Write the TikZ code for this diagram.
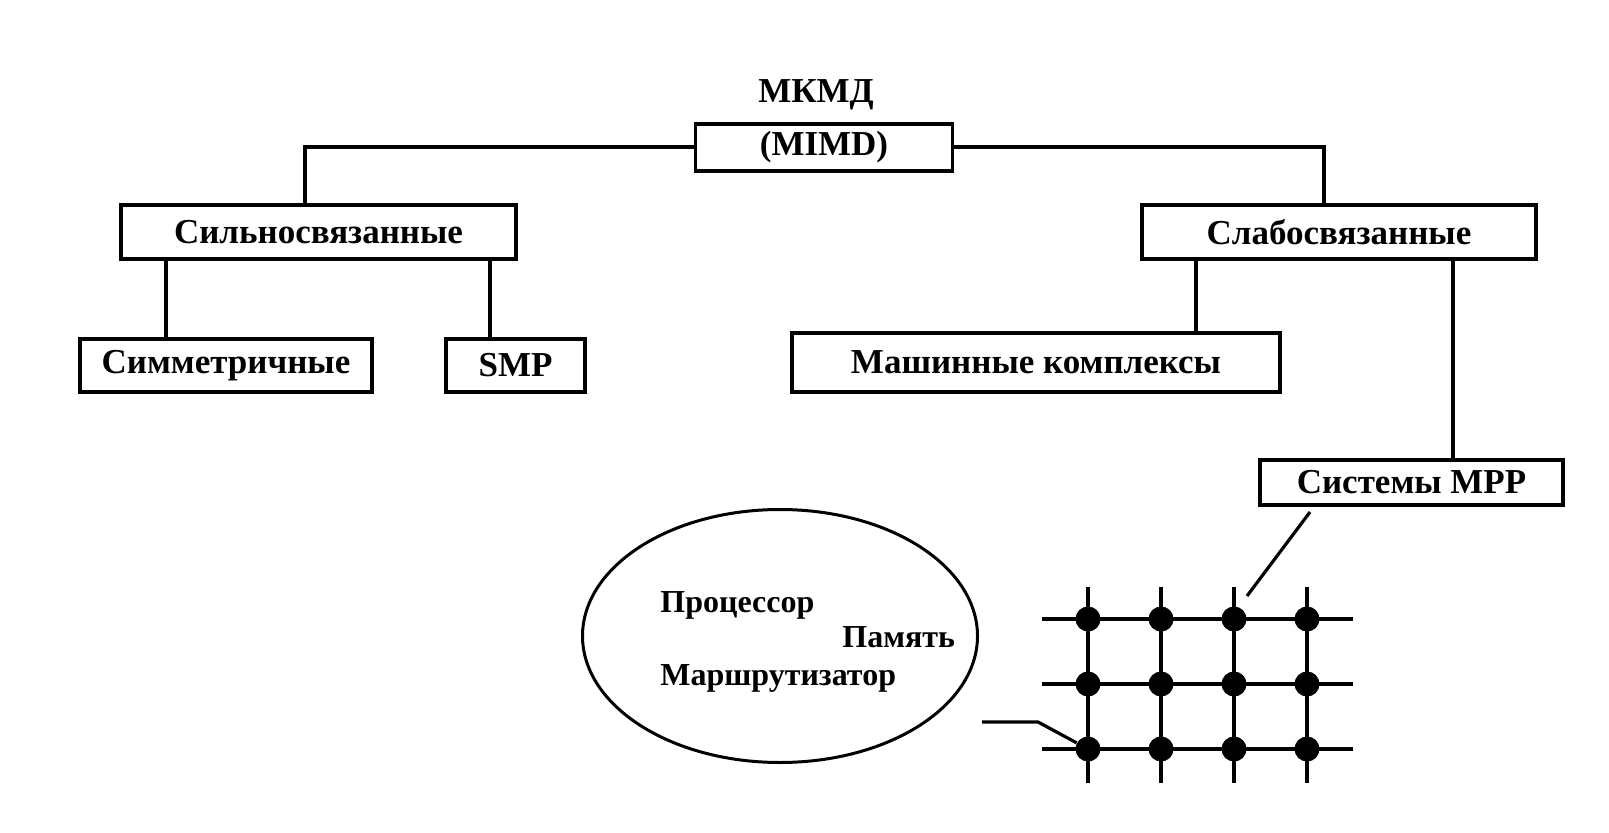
\documentclass[tikz,border=0pt]{standalone}
\usepackage{fontspec}
\setmainfont{Liberation Serif}
\usetikzlibrary{shapes.geometric}

\begin{document}
\begin{tikzpicture}[x=0.5pt, y=-0.5pt,
    every node/.style={font=\fontsize{17.5}{20}\selectfont\bfseries},
    box/.style={draw, line width=1.6pt, inner sep=0pt},
    inner/.style={anchor=base west, inner sep=0pt, font=\fontsize{16}{18}\selectfont\bfseries},
    link/.style={line width=2pt},
    knot/.style={circle, fill, inner sep=0pt, minimum size=12.5pt}]
  \useasboundingbox (0,0) rectangle (1609,833);

  % корень дерева
  \node (title) at (816,95) {МКМД};
  \node[box, minimum width=128.5pt, minimum height=23.5pt] (mimd) at (824,147.5) {(MIMD)};

  % второй уровень
  \node[box, minimum width=197.5pt, minimum height=27pt] (strong) at (318.5,232) {Сильносвязанные};
  \node[box, minimum width=197pt, minimum height=27pt] (weak) at (1339,232) {Слабосвязанные};

  % третий уровень
  \node[box, minimum width=146pt, minimum height=26.5pt] (sym) at (226,365.5) {Симметричные};
  \node[box, minimum width=69.5pt, minimum height=26.5pt] (smp) at (515.5,365.5) {SMP};
  \node[box, minimum width=244pt, minimum height=29.5pt] (mach) at (1036,362.5) {Машинные комплексы};
  \node[box, minimum width=151.5pt, minimum height=22.5pt] (mpp) at (1411.5,482.5) {Системы MPP};

  % соединительные линии
  \draw[link] (mimd.west) -| ([xshift=-6.75pt]strong.north);
  \draw[link] (mimd.east) -| ([xshift=-7.5pt]weak.north);
  \draw[link] ([xshift=-76.25pt]strong.south) -- ([xshift=-30pt]sym.north);
  \draw[link] ([xshift=85.75pt]strong.south) -- ([xshift=-12.75pt]smp.north);
  \draw[link] ([xshift=-71.5pt]weak.south) -- ([xshift=80pt]mach.north);
  \draw[link] ([xshift=57pt]weak.south) -- ([xshift=20.75pt]mpp.north);

  % узел системы MPP
  \node[draw, ellipse, line width=1.5pt, inner sep=0pt, minimum width=197.5pt, minimum height=126.5pt] (unit) at (780,636) {};
  \node[inner] (cpu) at (660,612) {Процессор};
  \node[inner] (mem) at (842,647) {Память};
  \node[inner] (rtr) at (660,685) {Маршрутизатор};

  % решётка
  \foreach \x in {1088,1161,1234,1307}
    \draw[link] (\x,587) -- (\x,783);
  \foreach \y in {619,684,749}
    \draw[link] (1042,\y) -- (1353,\y);
  \foreach \x [count=\i] in {1088,1161,1234,1307}
    \foreach \y [count=\j] in {619,684,749}
      \node[knot] (n\i\j) at (\x,\y) {};

  % выноски
  \coordinate (ptr) at (1310,512);
  \coordinate (tip) at (1247,596);
  \draw[line width=1.6pt] (ptr) -- (tip);
  \coordinate (tail) at (982,722);
  \draw[line width=1.6pt] (tail) -- (1038,722) -- (n13);
\end{tikzpicture}
\end{document}
